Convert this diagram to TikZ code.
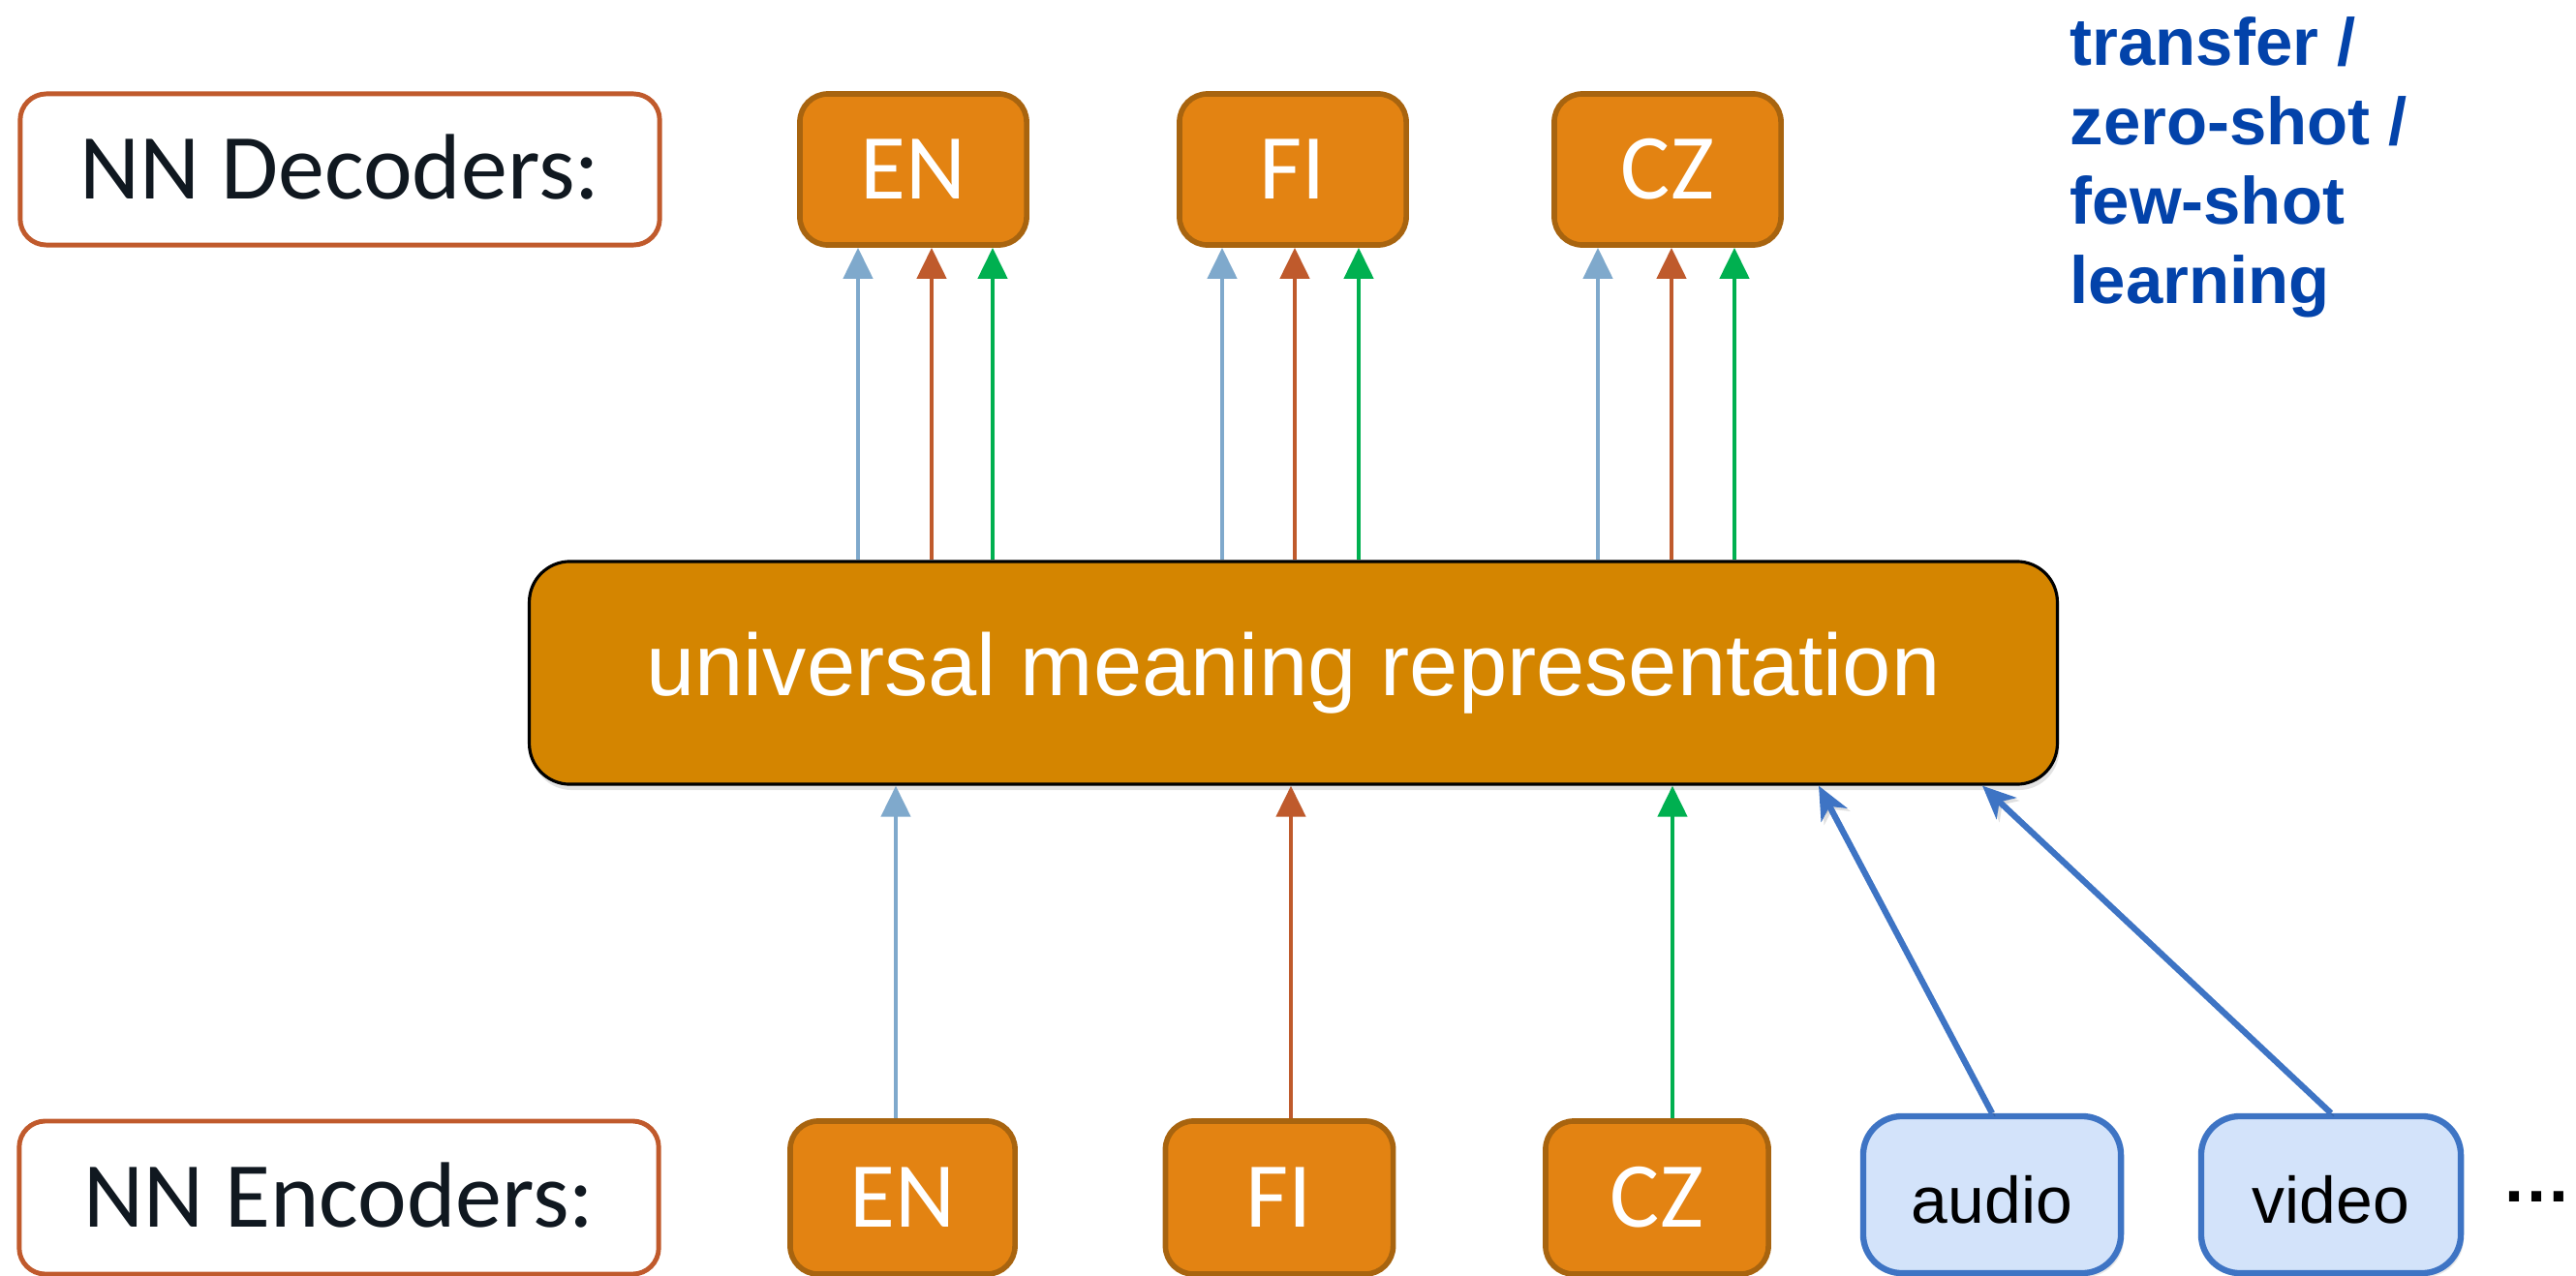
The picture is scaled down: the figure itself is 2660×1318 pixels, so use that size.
\documentclass[tikz,border=0pt]{standalone}
\usepackage{fontspec}
\setmainfont{Liberation Sans}
\newfontfamily\calibrifont{Carlito}
\usetikzlibrary{arrows.meta,shadows}

\definecolor{langfill}{RGB}{227,131,18}
\definecolor{langdraw}{RGB}{168,100,15}
\definecolor{nndraw}{RGB}{192,90,44}
\definecolor{umrfill}{RGB}{212,133,0}
\definecolor{arrblue}{RGB}{127,169,204}
\definecolor{arrrust}{RGB}{191,90,44}
\definecolor{arrgreen}{RGB}{0,176,80}
\definecolor{modfill}{RGB}{211,227,250}
\definecolor{moddraw}{RGB}{62,116,196}
\definecolor{noteblue}{RGB}{3,67,170}
\definecolor{labeltext}{RGB}{16,24,32}

\begin{document}
\begin{tikzpicture}[x=0.01cm,y=-0.01cm,
  calibri/.style={font=\calibrifont\fontsize{27.3pt}{32pt}\selectfont, text height=17.6pt, text depth=0pt},
  nnbox/.style={calibri, draw=nndraw, line width=1.4pt, fill=white, rounded corners=0.27cm,
    minimum width=6.6cm, inner sep=0pt, text=labeltext},
  langbox/.style={calibri, draw=langdraw, fill=langfill, line width=1.6pt, rounded corners=0.29cm,
    minimum width=2.34cm, inner sep=0pt, text=white},
  modbox/.style={draw=moddraw, fill=modfill, line width=1.8pt, rounded corners=0.4cm,
    minimum width=2.66cm, minimum height=1.62cm, inner sep=0pt,
    drop shadow={opacity=0.18, shadow xshift=0.03cm, shadow yshift=-0.04cm},
    font=\fontsize{19.3pt}{23pt}\selectfont, text height=16.5pt, text depth=0pt},
  umrbox/.style={draw=black, fill=umrfill, line width=0.9pt, rounded corners=0.42cm,
    minimum width=15.77cm, minimum height=2.3cm, inner sep=0pt,
    drop shadow={opacity=0.22, shadow xshift=0.02cm, shadow yshift=-0.06cm},
    font=\fontsize{25.7pt}{30pt}\selectfont, text=white, text height=13.3pt, text depth=0pt},
  uparrow/.style={line width=1.3pt, -{Triangle[length=0.32cm,width=0.3cm]}},
  modarrow/.style={draw=moddraw, line width=1.8pt, -{Stealth[length=0.34cm,width=0.3cm,inset=0.1cm]},
    preaction={draw=black, opacity=0.12, transform canvas={xshift=0.03cm, yshift=-0.03cm}}}
]
% canvas
\useasboundingbox (0,0) rectangle (2660,1318);

% decoder row
\node[nnbox, minimum height=1.56cm] (decNN) at (351,175) {NN Decoders:};
\node[langbox, minimum height=1.56cm] (decEN) at (943,175) {EN};
\node[langbox, minimum height=1.56cm] (decFI) at (1335,175) {FI};
\node[langbox, minimum height=1.56cm] (decCZ) at (1722,175) {CZ};

% shared representation
\node[umrbox] (umr) at (1335.5,695) {universal meaning representation};

% encoder row
\node[nnbox, minimum height=1.58cm] (encNN) at (350,1237) {NN Encoders:};
\node[langbox, minimum height=1.58cm, minimum width=2.32cm] (encEN) at (932,1237) {EN};
\node[langbox, minimum height=1.58cm, minimum width=2.35cm] (encFI) at (1321,1237) {FI};
\node[langbox, minimum height=1.58cm, minimum width=2.3cm] (encCZ) at (1711,1237) {CZ};
\node[modbox] (audio) at (2057,1234) {audio};
\node[modbox, minimum width=2.68cm] (video) at (2407,1234) {video};
\node[font=\bfseries\fontsize{20.5pt}{24pt}\selectfont, anchor=base, inner sep=0pt] (more) at (2620,1241) {…};

% side note
\node[anchor=north west, align=left, inner sep=0pt, text=noteblue,
      font=\bfseries\fontsize{19.6pt}{23.3pt}\selectfont] (note) at (2137,17)
  {transfer /\\zero-shot /\\few-shot\\learning};

% representation -> decoders
\foreach \d/\xa/\xb/\xc in {decEN/886/962/1025, decFI/1262/1337/1403, decCZ/1650/1726/1791} {
  \draw[uparrow, draw=arrblue] (umr.north -| \xa,0) -- (\d.south -| \xa,0);
  \draw[uparrow, draw=arrrust] (umr.north -| \xb,0) -- (\d.south -| \xb,0);
  \draw[uparrow, draw=arrgreen] (umr.north -| \xc,0) -- (\d.south -| \xc,0);
}

% encoders -> representation
\draw[uparrow, draw=arrblue] (encEN.north -| 925,0) -- (umr.south -| 925,0);
\draw[uparrow, draw=arrrust] (encFI.north -| 1333,0) -- (umr.south -| 1333,0);
\draw[uparrow, draw=arrgreen] (encCZ.north -| 1727,0) -- (umr.south -| 1727,0);
\draw[modarrow] (audio.north) -- (umr.south -| 1878,0);
\draw[modarrow] (video.north) -- (umr.south -| 2047,0);
\end{tikzpicture}
\end{document}
